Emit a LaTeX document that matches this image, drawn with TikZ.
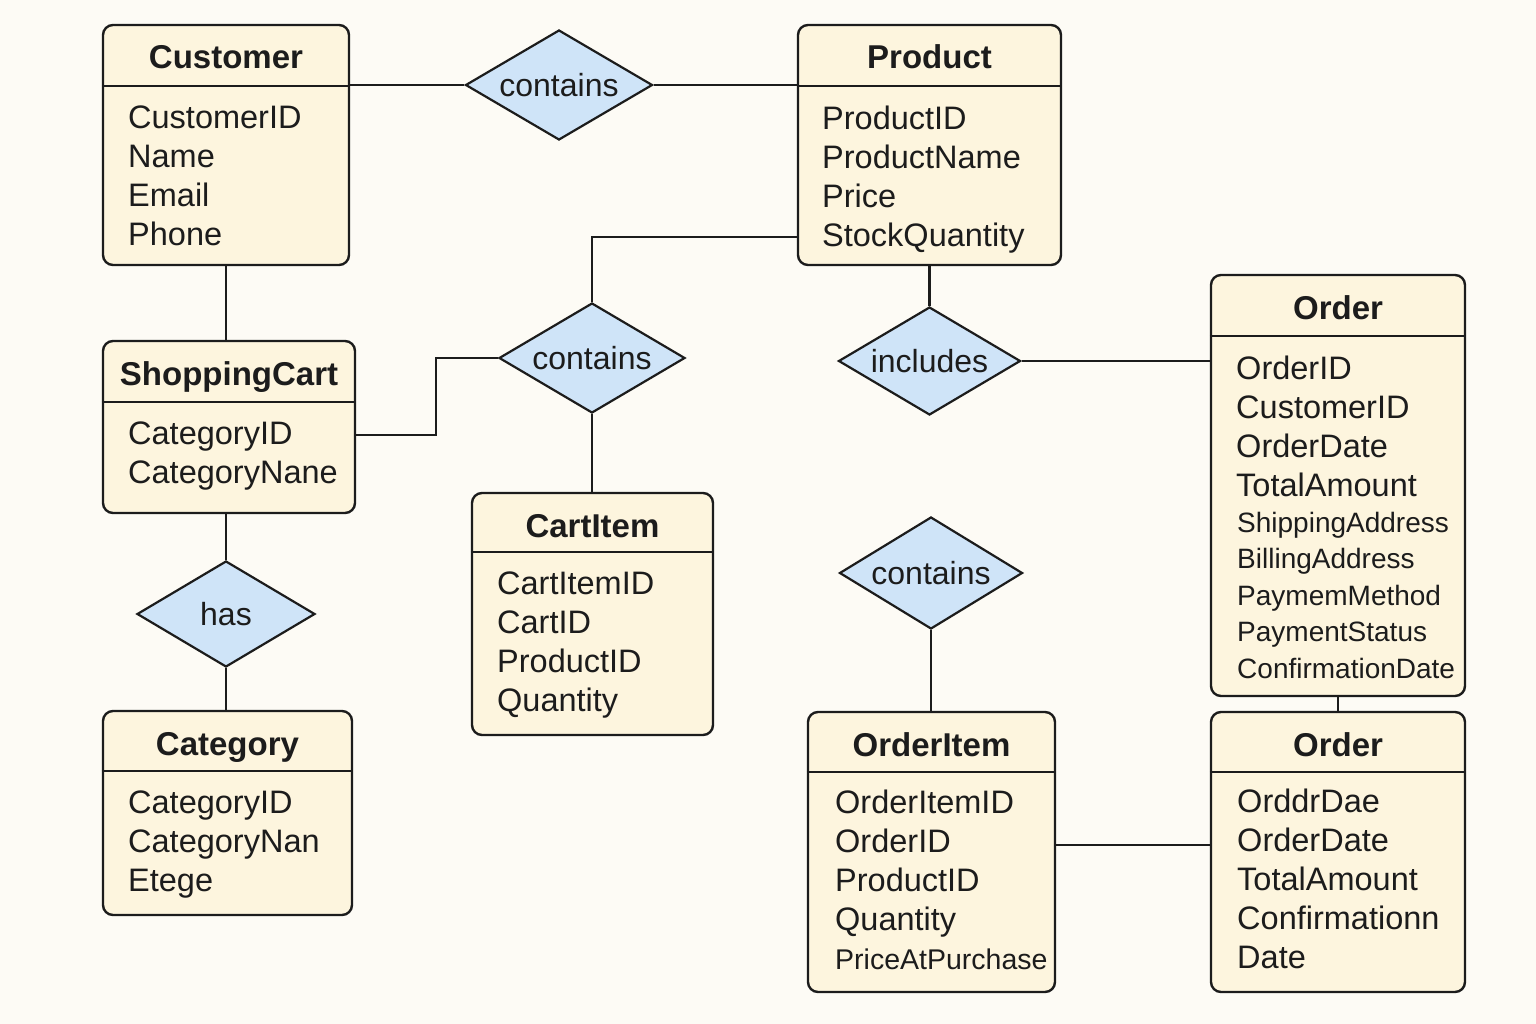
\documentclass[tikz,border=0pt]{standalone}
\usepackage{fontspec}
\setmainfont{Liberation Sans}
\usetikzlibrary{shapes.geometric}

\definecolor{bgc}{HTML}{FDFBF5}
\definecolor{boxfill}{HTML}{FDF5DE}
\definecolor{relfill}{HTML}{CFE4F8}
\definecolor{linec}{HTML}{1C1C1C}

\tikzset{
  entity/.style={draw=linec, fill=boxfill, line width=2.4pt, rounded corners=10pt, inner sep=0pt},
  ename/.style={anchor=base, inner sep=0pt, font=\fontsize{33}{39}\selectfont\bfseries, text=linec},
  attrs/.style={anchor=north west, align=left, inner sep=0pt, font=\fontsize{32.5}{39}\selectfont, text=linec},
  rel/.style={diamond, draw=linec, fill=relfill, line width=2.2pt, aspect=1.7, inner sep=0pt,
    minimum width=185pt, minimum height=110pt, font=\fontsize{32}{38}\selectfont, text=linec},
  link/.style={draw=linec, line width=2.2pt},
  hline/.style={draw=linec, line width=2pt}
}

\begin{document}
\begin{tikzpicture}[x=1pt, y=-1pt]
    \fill[bgc] (0,0) rectangle (1536,1024);
    \useasboundingbox (0,0) rectangle (1536,1024);

    % Entities
    \node[entity, minimum width=246pt, minimum height=240pt] (cust) at (226,145) {};
    \node[entity, minimum width=263pt, minimum height=240pt] (prod) at (929.5,145) {};
    \node[entity, minimum width=252pt, minimum height=172pt] (cart) at (229,427) {};
    \node[entity, minimum width=241pt, minimum height=242pt] (item) at (592.5,614) {};
    \node[entity, minimum width=249pt, minimum height=204pt] (cat) at (227.5,813) {};
    \node[entity, minimum width=254pt, minimum height=421pt] (ordA) at (1338,485.5) {};
    \node[entity, minimum width=247pt, minimum height=280pt] (oitem) at (931.5,852) {};
    \node[entity, minimum width=254pt, minimum height=280pt] (ordB) at (1338,852) {};

    % Header rules
    \draw[hline] (cust.west |- 0,86) -- (cust.east |- 0,86);
    \draw[hline] (prod.west |- 0,86) -- (prod.east |- 0,86);
    \draw[hline] (cart.west |- 0,402) -- (cart.east |- 0,402);
    \draw[hline] (item.west |- 0,552) -- (item.east |- 0,552);
    \draw[hline] (cat.west |- 0,771) -- (cat.east |- 0,771);
    \draw[hline] (ordA.west |- 0,336) -- (ordA.east |- 0,336);
    \draw[hline] (oitem.west |- 0,772) -- (oitem.east |- 0,772);
    \draw[hline] (ordB.west |- 0,772) -- (ordB.east |- 0,772);

    % Entity names
    \node[ename] (custT) at (226,69) {Customer};
    \node[ename] (prodT) at (929.5,69) {Product};
    \node[ename] (cartT) at (229,385) {ShoppingCart};
    \node[ename] (itemT) at (592.5,537) {CartItem};
    \node[ename] (catT) at (227.5,755) {Category};
    \node[ename] (ordAT) at (1338,319) {Order};
    \node[ename] (oitemT) at (931.5,756) {OrderItem};
    \node[ename] (ordBT) at (1338,756) {Order};

    % Attributes
    \node[attrs] (custA) at (128,106) {CustomerID\\Name\\Email\\Phone};
    \node[attrs] (prodA) at (822,106) {ProductID\\ProductName\\Price\\StockQuantity};
    \node[attrs] (cartA) at (128,422) {CategoryID\\CategoryNane};
    \node[attrs] (itemA) at (497,572) {CartItemID\\CartID\\ProductID\\Quantity};
    \node[attrs] (catA) at (128,791) {CategoryID\\CategoryNan\\Etege};
    \node[attrs] (ordAA) at (1236,356) {OrderID\\CustomerID\\OrderDate\\TotalAmount};
    \node[attrs, font=\fontsize{28}{36.5}\selectfont] (ordAB) at (1237,512)
        {ShippingAddress\\BillingAddress\\PaymemMethod\\PaymentStatus\\ConfirmationDate};
    \node[attrs] (oitemA) at (835,790)
        {OrderItemID\\OrderID\\ProductID\\Quantity\\{\fontsize{28.5}{39}\selectfont PriceAtPurchase}};
    \node[attrs] (ordBA) at (1237,789) {OrddrDae\\OrderDate\\TotalAmount\\Confirmationn\\Date};

    % Relationships
    \node[rel, minimum width=187pt] (c1) at (559,85) {contains};
    \node[rel, minimum width=186pt] (c2) at (592,358) {contains};
    \node[rel, minimum width=182pt, minimum height=108pt] (incl) at (929.5,361) {includes};
    \node[rel, minimum width=178pt, minimum height=106pt] (hasr) at (226,614) {has};
    \node[rel, minimum width=183pt, minimum height=112pt] (c3) at (931,573) {contains};

    % Connectors
    \draw[link] (c1.west) -- (c1.west -| cust.east);
    \draw[link] (c1.east) -- (c1.east -| prod.west);
    \draw[link] (cust.south) -- (cust.south |- cart.north);
    \draw[link] ([yshift=-92pt]prod.west) -| (c2.north);
    \draw[link] ([yshift=-8pt]cart.east) -- ++(80,0) |- (c2.west);
    \draw[link] (c2.south) -- (c2.south |- item.north);
    \draw[link] (prod.south) -- (incl.north);
    \draw[link] (incl.east) -- (incl.east -| ordA.west);
    \draw[link] (hasr.north) -- (hasr.north |- cart.south);
    \draw[link] (hasr.south) -- (hasr.south |- cat.north);
    \draw[link] (c3.south) -- (c3.south |- oitem.north);
    \draw[link] (ordA.south) -- (ordB.north);
    \draw[link] ([yshift=7pt]oitem.east) -- ([yshift=7pt]ordB.west);
\end{tikzpicture}
\end{document}
